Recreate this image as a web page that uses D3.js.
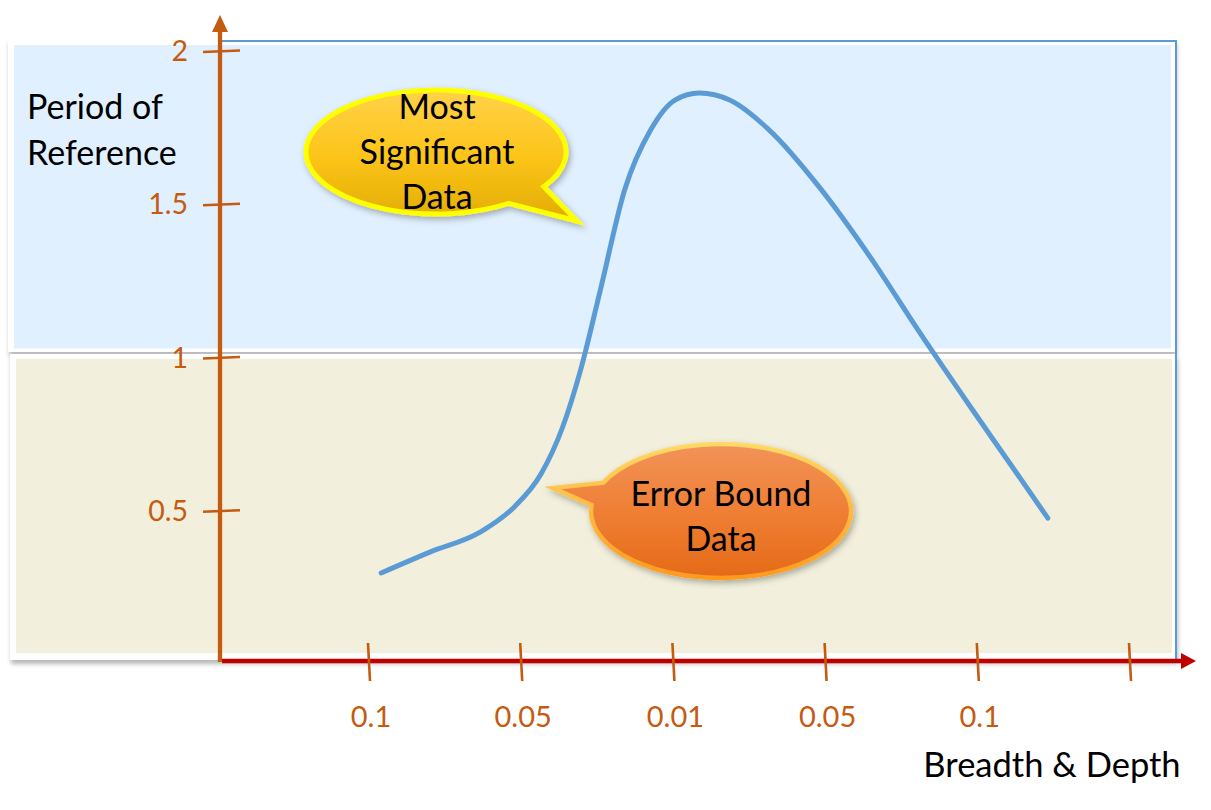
<!DOCTYPE html>
<html>
<head>
<meta charset="utf-8">
<script src="https://cdn.jsdelivr.net/npm/d3@7/dist/d3.min.js"></script>
<style>
  html, body { margin: 0; padding: 0; background: #ffffff; }
  svg { display: block; }
  text { font-family: Lato, "Open Sans", sans-serif; }
</style>
</head>
<body>
<svg id="chart" width="1211" height="810"></svg>
<script>
// ---------- data ----------
const yTickValues = [0.5, 1, 1.5, 2];
const xTickPositions = [1, 2, 3, 4, 5, 6];
const xTickLabels = ["0.1", "0.05", "0.01", "0.05", "0.1", ""];
const curveX = [1.08, 1.40, 1.73, 1.96, 2.13, 2.27, 2.39, 2.52, 2.68, 2.85, 3.01, 3.17, 3.37, 3.63, 3.96, 4.29, 4.62, 4.95, 5.21, 5.46];
const curveY = [0.297, 0.365, 0.43, 0.515, 0.62, 0.77, 0.959, 1.22, 1.547, 1.742, 1.84, 1.863, 1.84, 1.742, 1.555, 1.33, 1.08, 0.84, 0.655, 0.476];
const yAxisTitle = ["Period of", "Reference"];
const xAxisTitle = "Breadth & Depth";
const calloutTop = ["Most", "Significant", "Data"];
const calloutBottom = ["Error Bound", "Data"];

// ---------- setup ----------
const svg = d3.select("#chart");
const x = d3.scaleLinear().domain([0, 6]).range([216.8, 1130]);
const y = d3.scaleLinear().domain([0, 2]).range([664, 51]);
const orange = "#C55A11";

const defs = svg.append("defs");
const sh = defs.append("filter").attr("id", "panelShadow")
  .attr("x", "-5%").attr("y", "-5%").attr("width", "110%").attr("height", "115%");
sh.append("feDropShadow").attr("dx", 1).attr("dy", 4).attr("stdDeviation", 2)
  .attr("flood-color", "#000").attr("flood-opacity", 0.28);

const bsh = defs.append("filter").attr("id", "bubbleShadow")
  .attr("x", "-20%").attr("y", "-20%").attr("width", "140%").attr("height", "150%");
bsh.append("feDropShadow").attr("dx", 2).attr("dy", 3).attr("stdDeviation", 3)
  .attr("flood-color", "#000").attr("flood-opacity", 0.3);

function vgrad(id, stops) {
  const g = defs.append("linearGradient").attr("id", id)
    .attr("x1", 0).attr("y1", 0).attr("x2", 0).attr("y2", 1);
  stops.forEach(s => g.append("stop").attr("offset", s[0]).attr("stop-color", s[1]));
}
vgrad("goldFill", [[0, "#FFD24A"], [0.5, "#FDC51A"], [1, "#E2AC00"]]);
vgrad("orangeFill", [[0, "#F29359"], [0.5, "#EF7F35"], [1, "#E56A17"]]);
vgrad("orangeStroke", [[0, "#FFD966"], [1, "#FF9A1F"]]);

// ---------- background panels ----------
svg.append("rect").attr("x", 8).attr("y", 39).attr("width", 1168).attr("height", 313)
  .attr("fill", "#fff").attr("filter", "url(#panelShadow)");
svg.append("rect").attr("x", 14).attr("y", 45).attr("width", 1157).attr("height", y(1) - 9 - 45)
  .attr("fill", "#E1F0FE");
svg.append("rect").attr("x", 10).attr("y", 354).attr("width", 1167).attr("height", 306)
  .attr("fill", "#fff").attr("filter", "url(#panelShadow)");
svg.append("rect").attr("x", 16).attr("y", 359).attr("width", 1156).attr("height", 294)
  .attr("fill", "#F2F0DC");

// plot border (blue top + right)
svg.append("path")
  .attr("d", `M222,41 H1176 V661`)
  .attr("fill", "none").attr("stroke", "#5B9BD5").attr("stroke-width", 2);

// ---------- curve ----------
const pts = curveX.map((v, i) => [v, curveY[i]]);
svg.append("path")
  .datum(pts)
  .attr("d", d3.line().x(d => x(d[0])).y(d => y(d[1])).curve(d3.curveMonotoneX))
  .attr("fill", "none").attr("stroke", "#5B9BD5").attr("stroke-width", 5)
  .attr("stroke-linecap", "round").attr("stroke-linejoin", "round");

// ---------- axes ----------
svg.append("line").attr("x1", 222).attr("y1", 661).attr("x2", 1183).attr("y2", 661)
  .attr("stroke", "#C00000").attr("stroke-width", 4.5);
svg.append("path").attr("d", "M1181,653 L1196,661 L1181,669 Z").attr("fill", "#C00000");

svg.append("line").attr("x1", 220).attr("y1", 662).attr("x2", 220).attr("y2", 30)
  .attr("stroke", orange).attr("stroke-width", 4.3);
svg.append("path").attr("d", "M212,32 L220,15 L228,32 Z").attr("fill", orange);

// y ticks
const yt = svg.append("g").selectAll("g").data(yTickValues).join("g");
yt.append("line")
  .attr("x1", 203).attr("x2", 240)
  .attr("y1", d => y(d) + 1).attr("y2", d => y(d) - 0.5)
  .attr("stroke", orange).attr("stroke-width", 2.6);
yt.append("text")
  .attr("x", 188).attr("y", d => y(d) + 10)
  .attr("text-anchor", "end")
  .attr("font-size", 28.5).attr("fill", orange)
  .text(d => d3.format("")(d));

// x ticks
const xt = svg.append("g").selectAll("g").data(xTickPositions).join("g");
xt.append("line")
  .attr("x1", d => x(d) - 1).attr("x2", d => x(d) + 1)
  .attr("y1", 643).attr("y2", 681)
  .attr("stroke", orange).attr("stroke-width", 2.6);
xt.append("text")
  .attr("x", (d) => x(d) + 2).attr("y", 727)
  .attr("text-anchor", "middle")
  .attr("font-size", 29).attr("fill", orange)
  .text((d, i) => xTickLabels[i]);

// axis titles
svg.append("g").selectAll("text").data(yAxisTitle).join("text")
  .attr("x", 27).attr("y", (d, i) => 119 + i * 46)
  .attr("font-size", 34).attr("fill", "#000")
  .text(d => d);
svg.append("text").attr("x", 1052).attr("y", 777).attr("text-anchor", "middle")
  .attr("font-size", 34.5).attr("fill", "#000").text(xAxisTitle);

// ---------- callouts ----------
function calloutPath(cx, cy, rx, ry, a1, a2, tip, sweep) {
  const r = Math.PI / 180;
  const p1 = [cx + rx * Math.cos(a1 * r), cy + ry * Math.sin(a1 * r)];
  const p2 = [cx + rx * Math.cos(a2 * r), cy + ry * Math.sin(a2 * r)];
  return `M${p1[0]},${p1[1]} A${rx},${ry} 0 1 ${sweep} ${p2[0]},${p2[1]} L${tip[0]},${tip[1]} Z`;
}

svg.append("path")
  .attr("d", calloutPath(436, 152, 130, 62, 56, 34, [577, 221], 1))
  .attr("fill", "url(#goldFill)").attr("stroke", "#FFFF00").attr("stroke-width", 5)
  .attr("stroke-linejoin", "miter").attr("filter", "url(#bubbleShadow)");
svg.append("g").selectAll("text").data(calloutTop).join("text")
  .attr("x", 437).attr("y", (d, i) => 119 + i * 45)
  .attr("text-anchor", "middle").attr("font-size", 34).attr("fill", "#000")
  .text(d => d);

svg.append("path")
  .attr("d", calloutPath(721, 511, 130, 67, 185, 205, [553, 488], 0))
  .attr("fill", "url(#orangeFill)").attr("stroke", "url(#orangeStroke)").attr("stroke-width", 4.5)
  .attr("stroke-linejoin", "miter").attr("filter", "url(#bubbleShadow)");
svg.append("g").selectAll("text").data(calloutBottom).join("text")
  .attr("x", 721).attr("y", (d, i) => 506 + i * 45)
  .attr("text-anchor", "middle").attr("font-size", 34).attr("fill", "#000")
  .text(d => d);
</script>
</body>
</html>
